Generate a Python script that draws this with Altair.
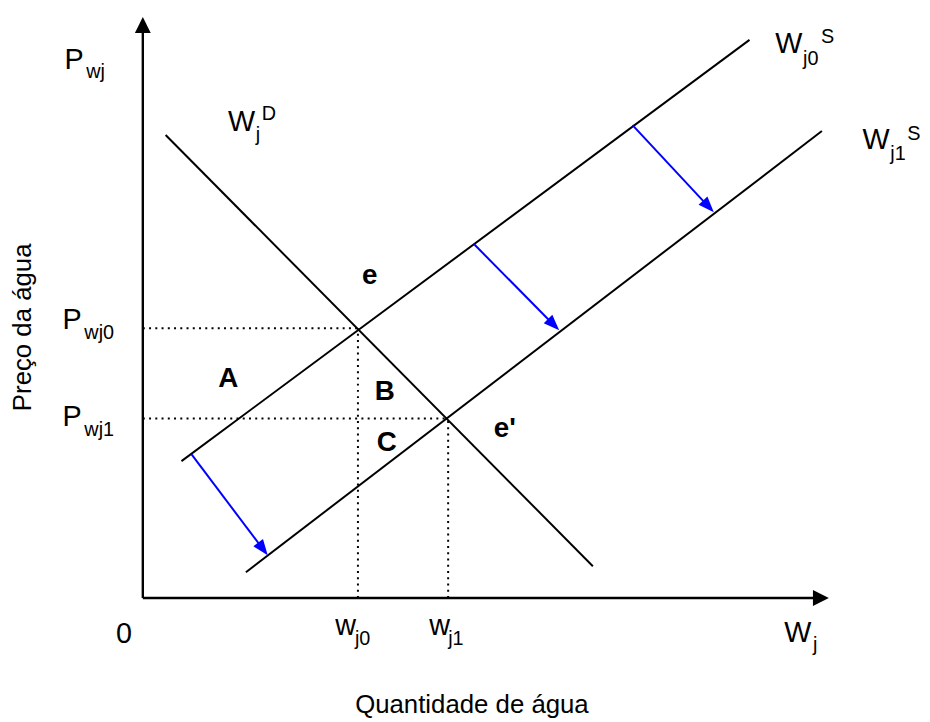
import math
import altair as alt
import pandas as pd

# ---- curve end points (chart units, origin at the axes' corner) ----
demand_x = [23, 454]
demand_y = [467, 32]
supply0_x = [39, 612]
supply0_y = [138, 563]
supply1_x = [104, 685]
supply1_y = [26, 471]

# equilibria: quantities w_j0, w_j1 and prices P_wj0, P_wj1
eq_q = [217, 308]
eq_p = [272, 181]

# supply shift arrows (start on S0, tip on S1)
shift_x0 = [49, 334, 494]
shift_y0 = [145, 357, 477]
shift_x1 = [126, 420, 576]
shift_y1 = [43, 270, 389]

# axis ends
axis_x_end = 692
axis_y_end = 586

# ---- labels ----
main_text = ["P", "W", "W", "W", "P", "P", "0", "w", "w", "W"]
main_x = [-79, 86, 638, 726, -81, -81, -27, 194, 289, 647]
main_y = [534, 471, 550, 453, 271, 173, -45, -37, -37, -44]

sub_text = ["wj", "j", "D", "j0", "S", "j1", "S", "wj0", "wj1", "j0", "j1", "j"]
sub_x = [-57, 114, 120, 666, 684, 754, 771, -59, -59, 214, 308, 676]
sub_y = [525, 461, 482, 538, 560, 442, 462, 261, 163, -47, -47, -53]

bold_text = ["e", "A", "B", "C", "e'"]
bold_x = [221, 76, 234, 236, 354]
bold_y = [317, 213, 200, 148, 162]

x_title = "Quantidade de água"
y_title = "Preço da água"

FONT = "Liberation Sans"
X = dict(scale=alt.Scale(domain=[0, 700]), axis=None)
Y = dict(scale=alt.Scale(domain=[0, 590]), axis=None)


def xq(f):
    return alt.X(f, type="quantitative", **X)


def yq(f):
    return alt.Y(f, type="quantitative", **Y)


curves = pd.DataFrame({
    "x": [demand_x[0], supply0_x[0], supply1_x[0]],
    "y": [demand_y[0], supply0_y[0], supply1_y[0]],
    "x2": [demand_x[1], supply0_x[1], supply1_x[1]],
    "y2": [demand_y[1], supply0_y[1], supply1_y[1]],
})
curve_layer = alt.Chart(curves).mark_rule(color="black", strokeWidth=2).encode(
    x=xq("x"), y=yq("y"), x2="x2", y2="y2")

dots = pd.DataFrame({
    "x": [0, 0, eq_q[0], eq_q[1]],
    "y": [eq_p[0], eq_p[1], 0, 0],
    "x2": [eq_q[0], eq_q[1], eq_q[0], eq_q[1]],
    "y2": [eq_p[0], eq_p[1], eq_p[0], eq_p[1]],
})
dot_layer = alt.Chart(dots).mark_rule(color="black", strokeWidth=2, strokeDash=[2, 4.3]).encode(
    x=xq("x"), y=yq("y"), x2="x2", y2="y2")

axes = pd.DataFrame({"x": [0, 0], "y": [0, 0], "x2": [axis_x_end - 12, 0], "y2": [0, axis_y_end - 12]})
axis_layer = alt.Chart(axes).mark_rule(color="black", strokeWidth=2.4).encode(
    x=xq("x"), y=yq("y"), x2="x2", y2="y2")

axis_heads = pd.DataFrame({"x": [axis_x_end, 0], "y": [0, axis_y_end], "ang": [90, 0]})
head_shape_axis = "M0,0L0.5,1L-0.5,1Z"
axis_head_layer = alt.Chart(axis_heads).mark_point(
    shape=head_shape_axis, filled=True, opacity=1, size=1024, color="black", strokeWidth=0
).encode(x=xq("x"), y=yq("y"), angle=alt.Angle("ang:Q", scale=None))

shifts = pd.DataFrame({"x": shift_x0, "y": shift_y0, "x2": shift_x1, "y2": shift_y1})
shifts["ang"] = [
    (math.degrees(math.atan2(b - a, d - c)) + 360) % 360
    for a, b, c, d in zip(shift_x0, shift_x1, shift_y0, shift_y1)
]
shifts["xe"] = [a + (b - a) * 0.9 for a, b in zip(shift_x0, shift_x1)]
shifts["ye"] = [a + (b - a) * 0.9 for a, b in zip(shift_y0, shift_y1)]
shift_layer = alt.Chart(shifts).mark_rule(color="#0000ff", strokeWidth=2).encode(
    x=xq("x"), y=yq("y"), x2="xe", y2="ye")
head_shape_blue = "M0,0L0.38,1L-0.38,1Z"
shift_head_layer = alt.Chart(shifts).mark_point(
    shape=head_shape_blue, filled=True, opacity=1, size=1024, color="#0000ff", strokeWidth=0
).encode(x=xq("x2"), y=yq("y2"), angle=alt.Angle("ang:Q", scale=None))


def text_layer(texts, xs, ys, size, weight="normal"):
    df = pd.DataFrame({"t": texts, "x": xs, "y": ys})
    return alt.Chart(df).mark_text(
        align="left", baseline="alphabetic", font=FONT, fontSize=size,
        fontWeight=weight, color="black"
    ).encode(x=xq("x"), y=yq("y"), text="t:N")


main_layer = text_layer(main_text, main_x, main_y, 29)
sub_layer = text_layer(sub_text, sub_x, sub_y, 20)
bold_layer = text_layer(bold_text, bold_x, bold_y, 28, "bold")

xt = alt.Chart(pd.DataFrame({"t": [x_title], "x": [332], "y": [-116]})).mark_text(
    align="center", baseline="alphabetic", font=FONT, fontSize=26, color="black"
).encode(x=xq("x"), y=yq("y"), text="t:N")
yt = alt.Chart(pd.DataFrame({"t": [y_title], "x": [-113], "y": [273]})).mark_text(
    align="center", baseline="alphabetic", font=FONT, fontSize=26, color="black", angle=270
).encode(x=xq("x"), y=yq("y"), text="t:N")

chart = alt.layer(
    dot_layer, curve_layer, axis_layer, axis_head_layer, shift_layer, shift_head_layer,
    main_layer, sub_layer, bold_layer, xt, yt
).properties(
    width=700, height=590,
    autosize=alt.AutoSizeParams(type="none"),
    padding={"left": 136, "top": 2, "right": 86, "bottom": 122},
    background="white",
).configure_view(strokeWidth=0)

chart.save("out.html", embed_options={"renderer": "svg", "actions": False})
